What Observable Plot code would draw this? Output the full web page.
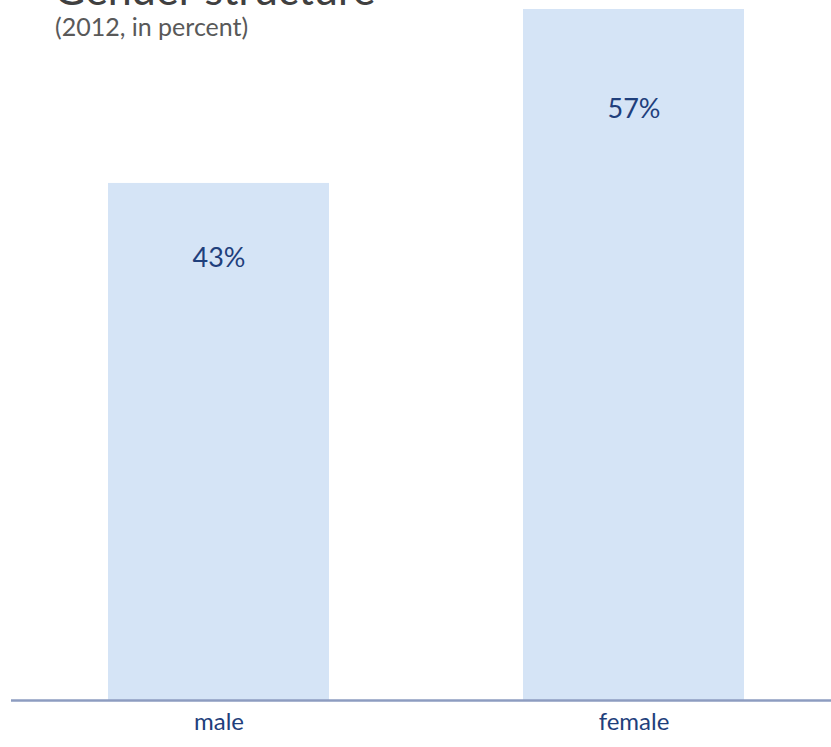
<!DOCTYPE html>
<html>
<head>
<meta charset="utf-8">
<script src="https://cdn.jsdelivr.net/npm/d3@7"></script>
<script src="https://cdn.jsdelivr.net/npm/@observablehq/plot@0.6"></script>
<style>
  html, body { margin: 0; padding: 0; background: #fff; }
  #wrap { position: relative; width: 831px; height: 747px; overflow: hidden; font-family: Lato, "Open Sans", sans-serif; }
  #title { position: absolute; left: 54px; top: -33px; font-size: 43px; line-height: 43px; color: #404040; white-space: nowrap; }
  #subtitle { position: absolute; left: 55px; top: 12px; font-size: 25px; line-height: 28px; color: #595959; white-space: nowrap; }
  #chart { position: absolute; left: 0; top: 0; }
</style>
</head>
<body>
<div id="wrap">
  <div id="chart"></div>
  <div id="title">Gender structure</div>
  <div id="subtitle">(2012, in percent)</div>
</div>
<script>
const categories = ["male", "female"];
const values = [42.8, 57.2];
const labels = ["43%", "57%"];

const data = categories.map((c, i) => ({category: c, value: values[i], label: labels[i]}));

const chart = Plot.plot({
  width: 831,
  height: 747,
  marginLeft: 11,
  marginRight: 0,
  marginTop: 9,
  marginBottom: 47,
  style: {fontFamily: "Lato, 'Open Sans', sans-serif", background: "transparent"},
  x: {domain: categories, paddingInner: 0.4675, paddingOuter: 0.2217, align: 0.527, label: null},
  y: {domain: [0, 57.2], axis: null},
  marks: [
    Plot.barY(data, {x: "category", y: "value", fill: "#d5e4f6"}),
    Plot.text(data, {x: "category", y: d => d.value * 0.855, text: "label", fill: "#1f3f7c", fontSize: 27}),
    Plot.ruleY([0], {stroke: "#8d9cc0", strokeWidth: 2.5}),
    Plot.axisX({tickSize: 0, tickPadding: 12, fontSize: 24, color: "#1f3f7c", label: null})
  ]
});
document.getElementById("chart").appendChild(chart);
</script>
</body>
</html>
